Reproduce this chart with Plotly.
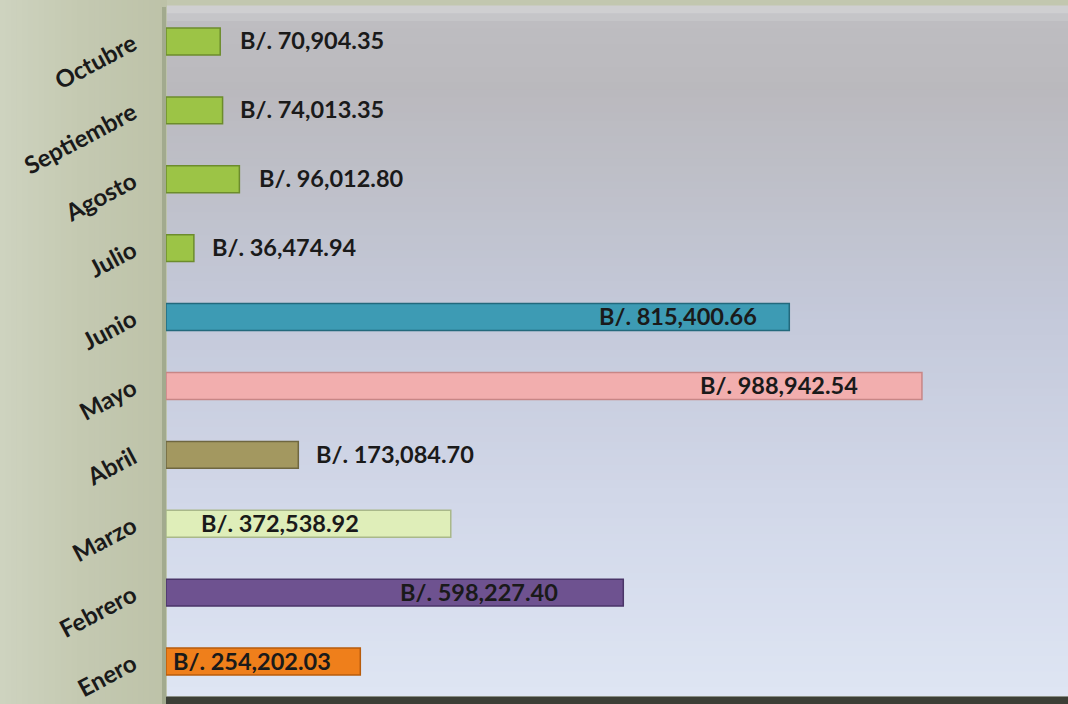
import plotly.graph_objects as go

# ---- data ----
months = ["Enero", "Febrero", "Marzo", "Abril", "Mayo", "Junio",
          "Julio", "Agosto", "Septiembre", "Octubre"]
values = [254202.03, 598227.40, 372538.92, 173084.70, 988942.54, 815400.66,
          36474.94, 96012.80, 74013.35, 70904.35]

# ---- styles ----
bar_colors = ["#ef7f1b", "#6e5290", "#dfeeb9", "#a39860", "#f2aeae", "#3d9bb4",
              "#9cc446", "#9cc446", "#9cc446", "#9cc446"]
bar_lines = ["#b85c0c", "#4a3568", "#a9b88a", "#6f6740", "#c88686", "#23697c",
             "#6c8c2c", "#6c8c2c", "#6c8c2c", "#6c8c2c"]
# label placement relative to bar end (px); negative -> inside, anchored right
label_shift = [-27, -63, -90, 16, -62, -30, 16, 18, 15, 18]

W, H = 1068, 704
ML, MR, MT, MB = 166, 0, 7, 8
PW, PH = W - ML - MR, H - MT - MB


def hex2rgb(h):
    h = h.lstrip("#")
    return tuple(int(h[i:i + 2], 16) for i in (0, 2, 4))


def interp(stops, t):
    for (t0, c0), (t1, c1) in zip(stops, stops[1:]):
        if t0 <= t <= t1:
            f = 0 if t1 == t0 else (t - t0) / (t1 - t0)
            a, b = hex2rgb(c0), hex2rgb(c1)
            return "rgb(%d,%d,%d)" % tuple(round(a[i] + (b[i] - a[i]) * f) for i in range(3))
    return stops[-1][1]


shapes = []
# plot-area vertical gradient (t=0 top, t=1 bottom)
bg_stops = [(0.0, "#d4d4d6"), (0.025, "#bebdc1"), (0.12, "#bab9bd"),
            (0.45, "#c4c9da"), (0.75, "#d3d9ea"), (1.0, "#dee5f3")]
N = 90
for i in range(N):
    t0, t1 = i / N, (i + 1) / N
    shapes.append(dict(type="rect", xref="paper", yref="paper",
                       x0=0, x1=1, y0=1 - t1, y1=1 - t0 + 0.002,
                       fillcolor=interp(bg_stops, (t0 + t1) / 2),
                       line=dict(width=0), layer="below"))
# left panel horizontal gradient
lp_stops = [(0.0, "#ced3bf"), (0.5, "#c4c9b1"), (1.0, "#bdc2a8")]
M = 30
xl = -ML / PW
for i in range(M):
    t0, t1 = i / M, (i + 1) / M
    shapes.append(dict(type="rect", xref="paper", yref="paper",
                       x0=xl * (1 - t0), x1=xl * (1 - t1) + 0.001,
                       y0=-MB / PH, y1=1 + MT / PH,
                       fillcolor=interp(lp_stops, (t0 + t1) / 2),
                       line=dict(width=0), layer="below"))
# left border of plot area
shapes.append(dict(type="rect", xref="paper", yref="paper",
                   x0=-4 / PW, x1=0, y0=-MB / PH, y1=1,
                   fillcolor="#a2aa8e", line=dict(width=0), layer="below"))
# bottom dark strip
shapes.append(dict(type="rect", xref="paper", yref="paper",
                   x0=0, x1=1, y0=-MB / PH, y1=0,
                   fillcolor="#3c3f36", line=dict(width=0), layer="above"))
shapes.append(dict(type="rect", xref="paper", yref="paper",
                   x0=0, x1=1, y0=-1 / PH, y1=0,
                   fillcolor="#8a8f86", line=dict(width=0), layer="above"))

fig = go.Figure()
fig.add_trace(go.Bar(
    y=months, x=values, orientation="h",
    marker=dict(color=bar_colors, line=dict(color=bar_lines, width=1.5)),
    width=0.39, hoverinfo="skip",
))

annotations = []
for m, v, s in zip(months, values, label_shift):
    annotations.append(dict(
        x=v, y=m, xref="x", yref="y", showarrow=False,
        text="B/. {:,.2f}".format(v),
        xanchor="right" if s < 0 else "left", xshift=s, yshift=1,
        font=dict(family="Lato", size=23.5, color="#1a1a1a", weight="bold"),
    ))

fig.update_layout(
    width=W, height=H,
    margin=dict(l=ML, r=MR, t=MT, b=MB, pad=0),
    paper_bgcolor="#c2c7af",
    plot_bgcolor="rgba(0,0,0,0)",
    showlegend=False,
    shapes=shapes,
    annotations=annotations,
    xaxis=dict(range=[0, 1180000], showgrid=False, zeroline=False,
               showticklabels=False, ticks="", showline=False, fixedrange=True),
    yaxis=dict(categoryorder="array", categoryarray=months,
               showgrid=False, zeroline=False, showline=False,
               ticks="", tickangle=-28, ticklabelstandoff=32,
               tickfont=dict(family="Lato", size=24, color="#1a1a1a", weight="bold"),
               fixedrange=True),
)

fig.write_html("out.html",
               config={"displayModeBar": False, "staticPlot": True},
               post_script="document.body.style.margin='0';document.body.style.overflow='hidden';")
